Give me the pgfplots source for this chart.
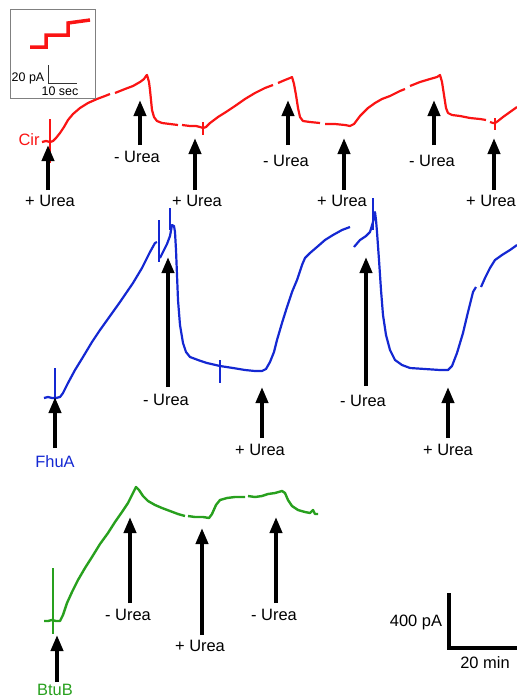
\documentclass[border=0pt]{standalone}
\usepackage{pgfplots}
\pgfplotsset{compat=1.18}
\usepackage{fontspec}
\setmainfont{Liberation Sans}
\usetikzlibrary{arrows.meta}
\definecolor{cred}{RGB}{250,20,20}
\definecolor{cblue}{RGB}{20,40,210}
\definecolor{cgreen}{RGB}{40,160,30}
\begin{document}
\begin{tikzpicture}
\path[use as bounding box] (0,0) rectangle (517bp,700bp);
\begin{axis}[at={(0,0)}, anchor=south west, width=517bp, height=700bp, scale only axis,
  xmin=0, xmax=517, ymin=0, ymax=700, y dir=reverse, hide axis, clip=false,
  unbounded coords=jump]
% Cir (red)
\addplot[cred, line width=2.2bp, line join=round] coordinates {
(42,142)(46,141)(50,142)(53,141)(56,138)(60,133)(64,127)(68,120)(73,114)(80,108)(88,103)(97,99)(105,96)(110,94)(112,nan)
(115,93)(125,89)(133,86)(140,82)(144,79)(146,76)(147,75)(149,82)(150,90)(151,100)(152,110)(154,117)(157,121)(162,123)(170,124)(178,125)(180,nan)
(182,125)(190,126)(196,126)(200,127)(203,128)(206,127)(210,123)(218,117)(226,112)(235,106)(245,99)(255,93)(265,88)(273,85)(275,nan)
(278,83)(285,80)(290,78)(292,77)(294,84)(296,95)(298,108)(300,117)(303,121)(310,122)(320,123)(322,nan)
(325,124)(335,124)(345,125)(350,126)(354,124)(360,116)(368,108)(375,103)(382,99)(390,96)(400,91)(405,89)(407,nan)
(410,86)(420,82)(430,79)(437,77)(440,75)(442,82)(444,95)(446,108)(448,113)(452,115)(460,116)(470,118)(480,119)(486,120)(488,nan)
(490,122)(493,123)(495,123)(498,121)(503,117)(510,112)(517,107)};
\addplot[cred, line width=1.2bp] coordinates {(50,119)(50,163)};
\addplot[cred, line width=1.2bp] coordinates {(203,122)(203,135)};
\addplot[cred, line width=1.2bp] coordinates {(495,118)(495,130)};
% FhuA (blue)
\addplot[cblue, line width=2.2bp, line join=round] coordinates {
(44,398)(48,397)(52,398)(56,398)(60,397)(63,393)(68,383)(75,370)(83,357)(92,342)(100,330)(110,316)(120,302)(133,283)(142,268)(150,252)(155,243)(157,242)(158,nan)
(160,258)(163,252)(167,244)(170,236)(172,225)(174,226)(175,232)(176,250)(177,275)(178,300)(180,325)(183,343)(186,352)(190,357)(198,360)(207,363)(220,366)(233,368)(245,370)(255,371)(262,371)(266,369)(270,362)(274,352)(277,340)(282,323)(287,307)(292,292)(297,280)(302,265)(305,258)(310,253)(317,247)(325,240)(333,235)(342,230)(350,227)(352,nan)
(354,247)(360,240)(366,236)(370,232)(373,222)(375,212)(376,220)(377,232)(379,260)(381,290)(383,315)(386,335)(390,350)(395,360)(402,365)(410,368)(425,369)(440,370)(448,370)(452,366)(457,353)(463,333)(468,312)(473,292)(476,287)(478,nan)
(481,287)(485,278)(490,268)(495,260)(502,255)(510,250)(517,245)};
\addplot[cblue, line width=1.2bp] coordinates {(55,368)(55,408)};
\addplot[cblue, line width=1.2bp] coordinates {(159,220)(159,262)};
\addplot[cblue, line width=1.2bp] coordinates {(170,208)(170,230)};
\addplot[cblue, line width=1.2bp] coordinates {(220,360)(220,383)};
\addplot[cblue, line width=1.2bp] coordinates {(373,198)(373,230)};
% BtuB (green)
\addplot[cgreen, line width=2.4bp, line join=round] coordinates {
(44,621)(48,621)(52,620)(56,621)(60,621)(63,615)(67,603)(72,592)(78,580)(85,568)(92,557)(100,544)(108,533)(115,522)(122,512)(128,503)(133,493)(136,487)(139,490)(143,496)(148,501)(155,505)(162,508)(170,511)(178,514)(185,516)(186,nan)
(188,516)(195,517)(203,517)(209,518)(212,514)(216,505)(220,500)(227,498)(235,497)(245,497)(246,nan)
(248,496)(255,497)(262,496)(268,494)(275,493)(282,491)(285,493)(288,500)(292,506)(298,510)(305,512)(310,513)(313,510)(315,514)(318,514)};
\addplot[cgreen, line width=1.2bp] coordinates {(53,568)(53,634)};
% inset
\draw[gray, line width=0.8bp] (axis cs:10,9) rectangle (axis cs:95,98);
\addplot[cred, line width=3.5bp] coordinates {(30,47)(46,47)(46,35)(68,35)(68,23)(90,20)};
\draw[black!80, line width=0.8bp] (axis cs:48,65) -- (axis cs:48,83) -- (axis cs:77,83);
\node[font=\fontsize{12.5}{14}\selectfont] at (axis cs:28,78) {20 pA};
\node[font=\fontsize{12.5}{14}\selectfont] at (axis cs:60,91) {10 sec};
% labels
\node[cred, font=\fontsize{16.5}{18}\selectfont] at (axis cs:29,140) {Cir};
\node[cblue, font=\fontsize{16.5}{18}\selectfont] at (axis cs:55,462) {FhuA};
\node[cgreen, font=\fontsize{16.5}{18}\selectfont] at (axis cs:55,690) {BtuB};
% arrows
\tikzset{uarr/.style={black, line width=3.8bp, -{Triangle[width=12bp,length=16bp]}}}
\draw[uarr] (axis cs:48,190) -- (axis cs:48,145);
\draw[uarr] (axis cs:140,145) -- (axis cs:140,100);
\draw[uarr] (axis cs:195,190) -- (axis cs:195,138);
\draw[uarr] (axis cs:288,145) -- (axis cs:288,100);
\draw[uarr] (axis cs:344,190) -- (axis cs:344,138);
\draw[uarr] (axis cs:434,145) -- (axis cs:434,100);
\draw[uarr] (axis cs:494,190) -- (axis cs:494,138);
\draw[uarr] (axis cs:55,448) -- (axis cs:55,397);
\draw[uarr] (axis cs:168,387) -- (axis cs:168,257);
\draw[uarr] (axis cs:262,438) -- (axis cs:262,387);
\draw[uarr] (axis cs:366,386) -- (axis cs:366,257);
\draw[uarr] (axis cs:448,438) -- (axis cs:448,387);
\draw[uarr] (axis cs:57,682) -- (axis cs:57,635);
\draw[uarr] (axis cs:130,603) -- (axis cs:130,517);
\draw[uarr] (axis cs:202,635) -- (axis cs:202,528);
\draw[uarr] (axis cs:276,603) -- (axis cs:276,517);
% urea labels
\tikzset{ul/.style={font=\fontsize{16.5}{18}\selectfont}}
\node[ul] at (axis cs:50,201) {+ Urea};
\node[ul] at (axis cs:137,157) {- Urea};
\node[ul] at (axis cs:197,201) {+ Urea};
\node[ul] at (axis cs:286,161) {- Urea};
\node[ul] at (axis cs:342,201) {+ Urea};
\node[ul] at (axis cs:432,161) {- Urea};
\node[ul] at (axis cs:491,201) {+ Urea};
\node[ul] at (axis cs:166,400) {- Urea};
\node[ul] at (axis cs:260,450) {+ Urea};
\node[ul] at (axis cs:363,401) {- Urea};
\node[ul] at (axis cs:448,450) {+ Urea};
\node[ul] at (axis cs:128,615) {- Urea};
\node[ul] at (axis cs:200,646) {+ Urea};
\node[ul] at (axis cs:274,615) {- Urea};
% scale bar
\draw[black, line width=3.5bp] (axis cs:449,593) -- (axis cs:449,648) -- (axis cs:517,648);
\node[ul] at (axis cs:416,622) {400 pA};
\node[ul] at (axis cs:485,663) {20 min};
\end{axis}
\end{tikzpicture}
\end{document}
